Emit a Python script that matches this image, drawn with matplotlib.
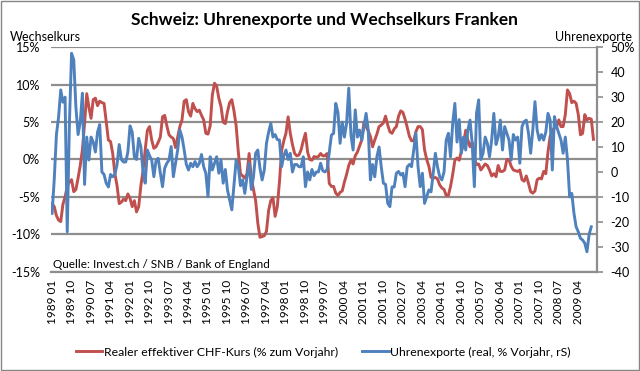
import matplotlib
matplotlib.use("Agg")
import matplotlib.pyplot as plt
from matplotlib.patches import Rectangle
from matplotlib.ticker import FixedLocator, FuncFormatter

plt.rcParams['font.family'] = ['Lato', 'DejaVu Sans']
plt.rcParams['axes.unicode_minus'] = False

# Realer effektiver CHF-Kurs, % zum Vorjahr (monthly from 1989 01)
chf_kurs = [
    -5.9, -6.3, -7.5, -8.1, -8.3, -6.0, -5.0, -3.6, -3.0, -2.7,
    -4.3, -4.0, -2.5, -0.8, 1.3, 4.8, 8.8, 7.0, 5.5, 8.0,
    8.2, 7.2, 7.8, 7.6, 7.5, 5.0, 2.6, 2.4, 0.8, -1.9,
    -3.5, -5.9, -5.7, -5.3, -5.5, -4.6, -5.2, -6.3, -5.5, -7.0,
    -6.3, -3.5, -1.5, 1.3, 3.9, 4.4, 2.6, 1.5, 1.7, 2.3,
    3.0, 5.7, 5.9, 4.5, 3.3, 3.0, 2.8, 1.6, 3.0, 4.4,
    5.3, 7.8, 8.0, 6.4, 5.8, 7.5, 6.8, 6.4, 6.6, 5.9,
    5.3, 3.5, 3.4, 4.5, 8.6, 10.2, 9.8, 8.2, 7.1, 5.0,
    4.8, 6.4, 7.6, 8.0, 6.5, 4.5, 1.0, -1.9, -2.2, -2.5,
    -1.9, 0.8, -2.5, -4.0, -5.5, -8.5, -10.4, -10.3, -10.2, -9.6,
    -6.8, -5.5, -5.1, -7.6, -6.3, -3.0, 1.2, 2.5, 3.5, 5.7,
    3.5, 2.0, 0.8, 0.5, 0.6, 1.3, 2.5, 3.5, 1.0, 0.0,
    -0.1, 0.4, 0.3, 0.4, 0.8, 0.5, 0.5, 0.8, -3.2, -3.6,
    -3.6, -4.5, -4.8, -4.4, -4.2, -3.0, -2.0, -0.8, -0.1, -0.6,
    0.5, 1.0, 1.8, 2.6, 5.0, 4.4, 3.8, 3.1, 1.7, 2.6,
    3.4, 4.4, 4.6, 4.9, 5.8, 4.6, 3.7, 3.5, 4.1, 4.4,
    5.8, 6.5, 6.3, 5.4, 4.3, 3.1, 2.5, 2.5, 3.7, 4.4,
    4.4, 4.0, 1.3, 0.0, -0.9, -2.4, -2.5, -2.4, -2.6, -3.4,
    -3.8, -4.0, -4.8, -4.8, -3.6, -2.0, -0.1, 0.2, -0.1, 1.1,
    2.0, 3.9, 2.6, 1.7, 2.3, 0.2, -0.7, -0.6, -1.4, -1.0,
    -0.6, -0.8, -1.4, -2.2, -1.9, -2.3, -0.8, -1.6, -1.6, -1.4,
    0.0, 0.0, -0.9, -1.4, -1.5, -1.6, -1.4, -2.7, -2.9, -2.2,
    -3.2, -4.3, -4.5, -4.2, -2.7, -2.5, -2.6, -1.6, -1.9, 1.0,
    3.1, 3.9, 4.2, 4.4, 5.3, 4.4, 4.4, 6.0, 9.3, 8.8,
    7.6, 7.8, 7.5, 6.0, 3.3, 3.5, 6.0, 5.3, 5.5, 5.4, 2.7,
]

# Uhrenexporte real, % Vorjahr (rechte Skala)
uhren = [
    -16.6, -3.0, 15, 22, 32.9, 28, 30, -24, 19.5, 47.6,
    45, 26, 15, 20, 31.6, -5, 14, 4.8, 14, 12,
    8, 16, 19, 0, -1, -4.5, -6, -1, -1.9, -1,
    3, 11, 5, 4, 4, 8, 18.5, 16, 6, 5,
    13.5, 10, 0, -4.5, 8.8, 6.5, 4.8, -1.9, 4.5, 5.5,
    -0.5, -5.9, 1.5, 3.5, 4.8, 10.2, -1.9, 3.5, 8.8, 16.8,
    14, 8.8, 3, 0.8, 3.5, 2.1, 4.2, 2.1, 3.5, 7,
    2.1, -0.5, -9.9, 6.1, 0.8, 3.5, 6.1, -0.5, 4.8, -4.5,
    1, -7.2, -11.2, -15.2, -5, 4.8, 2.1, -5.5, -3.2, -8.6,
    -2, 3.5, -7, -2, 7.5, 8.8, 1.5, -3.2, 0.8, 11.5,
    16, 19.5, 14, 15, 13, 12.8, 2.1, 6.5, 8.8, 5,
    7.5, 0, 3, 3, 2.1, 2.1, 6.1, -5.9, 0, -3.2,
    1, -1.5, 0, 0, 3.5, 0.5, 0, 1, 8, 14.8,
    15.5, 27.5, 24, 11.5, 20, 14, 19.5, 33.6, 15, 8.8,
    24.9, 14, 16.8, 12.8, 18, 23.5, 16.8, -3.2, 3, -1.9,
    6.1, 10, 2.1, -4.5, -5, -12.6, -13.9, -6, -6, -0.5,
    0.2, -1.2, -0.5, -5.9, 2, 3, 2.1, 8.8, 15.5, 2.1,
    -5.9, -0.5, -12.6, -9.9, -7.2, -8, -0.5, 7.5, 2, -1.9,
    -3.2, 0, 12.8, 15.5, 6.1, 19.5, 27.5, 12, 21, 7.5,
    14, 8.8, 16.8, 20.8, 11.5, -5.9, 23.5, 28.9, 5, 7.5,
    14, 11.5, 6.1, 12.8, 23.5, 11, 14, 20.8, 8.8, 18.2,
    15.5, 12.8, 4.8, 15, 12.8, 14, 3.5, 18.2, 20.2, 20.8,
    15.5, 7.5, 17, 28.2, 16.8, 12.8, 15, 12.8, 16, 23.5,
    20.8, 0.8, 22.2, 18.2, 15.5, 12.8, 7.5, 14, 5, -10,
    -8.6, -16.6, -22, -24, -26.6, -27.3, -28.6, -32, -25, -22,
]

series_names = ["Realer effektiver CHF-Kurs (% zum Vorjahr)",
                "Uhrenexporte (real, % Vorjahr, rS)"]

n_months = 252
months = ["%d %02d" % (1989 + m // 12, m % 12 + 1) for m in range(n_months)]
tick_idx = list(range(0, n_months, 9))

red = '#C0504D'
blue = '#4F81BD'
grid_c = '#8e8e8e'

fig = plt.figure(figsize=(6.4, 3.71), dpi=100)
ax = fig.add_axes([51 / 640, 1 - 271.7 / 371, 545.7 / 640, 224.4 / 371])
ax2 = ax.twinx()

l1, = ax.plot(range(len(chf_kurs)), chf_kurs, color=red, lw=2.1, solid_joinstyle='round')
l2, = ax2.plot(range(len(uhren)), uhren, color=blue, lw=2.1, solid_joinstyle='round')

ax.set_xlim(-0.5, n_months - 0.5)
ax.set_ylim(-15, 15)
ax2.set_ylim(-40, 50)

ax.set_yticks(range(-15, 16, 5))
ax.set_yticklabels(["%d%%" % v for v in range(-15, 16, 5)])
ax2.yaxis.set_major_locator(FixedLocator(range(-40, 51, 10)))
ax2.yaxis.set_major_formatter(FuncFormatter(lambda v, p: "50%" if v == 50 else "%d" % v))

ax.set_xticks(tick_idx)
ax.set_xticklabels([months[i] for i in tick_idx], rotation=90)

ax.grid(axis='y', color=grid_c, lw=1.6)
ax.set_axisbelow(True)
for s in ['top', 'left', 'right']:
    ax.spines[s].set_visible(False)
for s in ['top', 'left', 'bottom']:
    ax2.spines[s].set_visible(False)
ax.spines['bottom'].set_color(grid_c)
ax.spines['bottom'].set_linewidth(1.6)
ax2.spines['right'].set_color(grid_c)
ax2.spines['right'].set_linewidth(1.6)

ax.tick_params(axis='y', length=0, labelsize=9, pad=8)
ax.tick_params(axis='x', length=0, labelsize=8.5, pad=6)
ax2.tick_params(axis='y', length=4, width=1.2, color=grid_c, labelsize=9, pad=6)

fig.text(0.507, 0.945, "Schweiz: Uhrenexporte und Wechselkurs Franken",
         ha='center', va='center', fontsize=12.5, fontweight='bold')
fig.text(10 / 640, 1 - 37 / 371, "Wechselkurs", ha='left', va='center', fontsize=9)
fig.text(632 / 640, 1 - 37 / 371, "Uhrenexporte", ha='right', va='center', fontsize=9)
ax.text(0.3, -14.0, "Quelle: Invest.ch / SNB / Bank of England",
        ha='left', va='center', fontsize=8.5)

fig.legend(handles=[l1, l2], labels=series_names, loc='center', ncol=2,
           bbox_to_anchor=(0.505, 1 - 352 / 371), frameon=False, fontsize=8.8,
           handlelength=2.2, columnspacing=2.0, handletextpad=0.1)

fig.patches.append(Rectangle((0.001, 0.002), 0.997, 0.995, transform=fig.transFigure,
                             fill=False, edgecolor='#868686', lw=1))

fig.savefig("out.png", dpi=100)
